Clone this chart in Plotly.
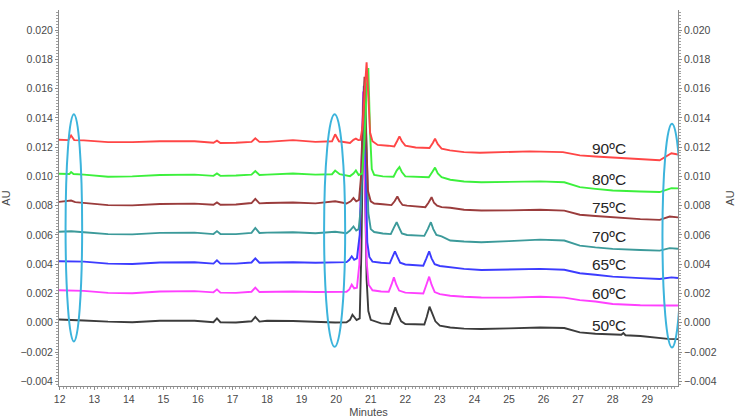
import plotly.graph_objects as go

# retention time (min) / absorbance (AU), one pair per temperature
t_50 = [11.98, 12.33, 12.7, 13.4, 14.1, 14.9, 15.9, 16.45, 16.55, 16.65, 17.1, 17.55, 17.66, 17.78, 18.0,
        18.75, 19.4, 19.97, 20.3, 20.40, 20.47, 20.59, 20.68, 20.73, 20.79, 20.84, 20.88, 20.93, 21.0,
        21.3, 21.55, 21.62, 21.71, 21.78, 21.88, 22.0, 22.3, 22.55, 22.62, 22.70, 22.77, 22.87, 23.0,
        23.3, 23.7, 24.2, 25.0, 25.9, 26.6, 27.05, 27.5, 28.0, 28.25, 28.31, 28.37, 28.8, 29.36, 29.6, 29.89]
au_50 = [0.00022, 0.00020, 0.00016, 0.00008, 0.00004, 0.00014, 0.00014, 0.00004, 0.00030, 0.00004, 0.00002,
         0.00010, 0.00040, 0.00008, 0.00014, 0.00012, 0.00004, 0.00002, 0.00004, 0.00020, 0.00055, 0.00018,
         0.00030, 0.0050, 0.0154, 0.0080, 0.0030, 0.0008, 0.0002, -0.00004, -0.00008, 0.0004, 0.00105,
         0.0006, 0.0001, -0.00008, -0.00012, -0.00012, 0.0004, 0.0011, 0.0007, 0.0001, -0.0002, -0.00032,
         -0.0004, -0.00043, -0.00038, -0.00032, -0.00036, -0.00066, -0.00075, -0.00082, -0.00082, -0.0007,
         -0.00085, -0.0009, -0.00105, -0.0011, -0.00112]

t_60 = [11.98, 12.7, 13.4, 14.1, 14.9, 15.9, 16.45, 16.55, 16.65, 17.1, 17.55, 17.66, 17.78, 18.0, 18.75,
        19.4, 19.97, 20.3, 20.38, 20.45, 20.52, 20.60, 20.67, 20.73, 20.78, 20.83, 20.88, 20.94, 21.05,
        21.3, 21.52, 21.60, 21.67, 21.74, 21.82, 22.0, 22.3, 22.52, 22.61, 22.69, 22.76, 22.85, 23.0,
        23.3, 23.7, 24.2, 25.0, 25.9, 26.6, 27.05, 27.5, 28.0, 28.8, 29.36, 29.6, 29.89]
au_60 = [0.00222, 0.00218, 0.00204, 0.00202, 0.00214, 0.00216, 0.00208, 0.00228, 0.00206, 0.00204, 0.00212,
         0.00240, 0.00210, 0.00212, 0.00214, 0.00210, 0.00210, 0.00212, 0.00228, 0.0026, 0.00235, 0.0024,
         0.0040, 0.0110, 0.0158, 0.0100, 0.0042, 0.0026, 0.00222, 0.00214, 0.00212, 0.0026, 0.0031, 0.0026,
         0.0022, 0.00206, 0.00202, 0.0020, 0.0026, 0.00315, 0.0026, 0.0021, 0.00196, 0.00185, 0.00178,
         0.00173, 0.00172, 0.00178, 0.00172, 0.00155, 0.00145, 0.00128, 0.0012, 0.00116, 0.00118, 0.00118]

t_65 = [11.98, 12.7, 13.4, 14.1, 14.9, 15.9, 16.45, 16.55, 16.65, 17.1, 17.55, 17.66, 17.78, 18.0, 18.75,
        19.4, 19.97, 20.3, 20.38, 20.45, 20.52, 20.60, 20.68, 20.74, 20.80, 20.85, 20.90, 20.96, 21.05,
        21.3, 21.55, 21.63, 21.70, 21.77, 21.85, 22.0, 22.3, 22.52, 22.61, 22.69, 22.76, 22.85, 23.0,
        23.3, 23.7, 24.2, 25.0, 25.9, 26.6, 27.05, 27.5, 28.0, 28.8, 29.36, 29.7, 29.89]
au_65 = [0.00420, 0.00418, 0.00404, 0.00402, 0.00412, 0.00414, 0.00404, 0.00426, 0.00404, 0.00404, 0.00412,
         0.00440, 0.00410, 0.00412, 0.00414, 0.00410, 0.00412, 0.00414, 0.0043, 0.00454, 0.0043, 0.0044,
         0.0060, 0.0120, 0.0162, 0.0110, 0.0055, 0.0045, 0.00418, 0.0041, 0.00406, 0.0045, 0.00488, 0.0045,
         0.0041, 0.00398, 0.00392, 0.0039, 0.0044, 0.00488, 0.0044, 0.0040, 0.00388, 0.00379, 0.00368,
         0.00361, 0.00364, 0.00368, 0.00362, 0.00338, 0.00328, 0.00315, 0.00305, 0.00299, 0.00310, 0.00306]

t_70 = [11.98, 12.33, 12.7, 13.4, 14.1, 14.9, 15.9, 16.45, 16.55, 16.65, 17.1, 17.55, 17.66, 17.78, 18.0,
        18.75, 19.4, 19.97, 20.3, 20.40, 20.50, 20.58, 20.65, 20.72, 20.78, 20.83, 20.88, 20.93, 21.0,
        21.1, 21.35, 21.58, 21.67, 21.75, 21.82, 21.9, 22.05, 22.3, 22.55, 22.65, 22.74, 22.81, 22.9,
        23.05, 23.3, 23.7, 24.2, 25.0, 25.9, 26.6, 27.05, 27.5, 28.0, 28.8, 29.36, 29.65, 29.89]
au_70 = [0.00622, 0.00625, 0.00618, 0.00606, 0.00604, 0.00614, 0.00616, 0.00606, 0.00626, 0.00606, 0.00606,
         0.00614, 0.00648, 0.00614, 0.00616, 0.00618, 0.00612, 0.00622, 0.00612, 0.0063, 0.00658, 0.0063,
         0.0064, 0.0080, 0.0130, 0.0165, 0.0120, 0.0075, 0.0064, 0.0062, 0.0061, 0.00606, 0.0065, 0.00687,
         0.0065, 0.0061, 0.0060, 0.00596, 0.00594, 0.0064, 0.00687, 0.0064, 0.0060, 0.0059, 0.00562,
         0.00555, 0.0055, 0.00558, 0.00568, 0.00562, 0.00527, 0.00515, 0.00505, 0.00497, 0.00493, 0.0051,
         0.00506]

t_75 = [11.98, 12.33, 12.45, 12.7, 13.4, 14.1, 14.9, 15.9, 16.45, 16.55, 16.65, 17.1, 17.55, 17.66, 17.78,
        18.0, 18.75, 19.4, 19.97, 20.3, 20.42, 20.50, 20.58, 20.66, 20.72, 20.77, 20.82, 20.87, 20.92,
        21.0, 21.1, 21.35, 21.6, 21.69, 21.77, 21.84, 21.92, 22.05, 22.3, 22.58, 22.67, 22.76, 22.83,
        22.92, 23.05, 23.3, 23.7, 24.2, 25.0, 25.9, 26.6, 27.05, 27.5, 28.0, 28.8, 29.36, 29.65, 29.89]
au_75 = [0.00826, 0.00835, 0.00824, 0.0082, 0.00804, 0.00802, 0.00812, 0.00814, 0.00806, 0.00822, 0.00806,
         0.00808, 0.00818, 0.00846, 0.00816, 0.00818, 0.00822, 0.00816, 0.0083, 0.00815, 0.0083, 0.00852,
         0.0083, 0.0084, 0.0100, 0.0140, 0.0168, 0.0125, 0.0090, 0.0083, 0.00815, 0.0081, 0.00804, 0.0083,
         0.00863, 0.0083, 0.00805, 0.0080, 0.00793, 0.0079, 0.0082, 0.00858, 0.0082, 0.0080, 0.0079,
         0.00786, 0.00772, 0.00767, 0.00768, 0.00772, 0.00766, 0.00738, 0.0073, 0.00721, 0.00708, 0.00703,
         0.00726, 0.0072]

t_80 = [11.98, 12.28, 12.33, 12.4, 12.7, 13.4, 14.1, 14.9, 15.9, 16.45, 16.55, 16.65, 17.1, 17.55, 17.66,
        17.78, 18.0, 18.75, 19.4, 19.88, 19.97, 20.1, 20.4, 20.5, 20.57, 20.65, 20.75, 20.82, 20.88, 20.93,
        20.98, 21.03, 21.1, 21.35, 21.66, 21.75, 21.83, 21.9, 22.0, 22.3, 22.68, 22.78, 22.86, 22.94,
        23.05, 23.3, 23.7, 24.2, 25.0, 25.9, 26.6, 27.05, 27.5, 28.0, 28.8, 29.36, 29.7, 29.89]
au_80 = [0.01018, 0.01016, 0.01030, 0.01016, 0.01012, 0.00998, 0.01000, 0.01010, 0.01012, 0.01004, 0.01020,
         0.01004, 0.01006, 0.01012, 0.01036, 0.01010, 0.01012, 0.01020, 0.01012, 0.01015, 0.01040, 0.01015,
         0.01002, 0.0102, 0.01041, 0.0101, 0.0102, 0.0125, 0.0160, 0.0174, 0.0130, 0.0105, 0.0101, 0.0100,
         0.00998, 0.0104, 0.01064, 0.0103, 0.0100, 0.00996, 0.00994, 0.0103, 0.0106, 0.0102, 0.00995,
         0.00977, 0.00965, 0.0096, 0.00962, 0.00966, 0.0096, 0.00927, 0.00915, 0.00904, 0.00897, 0.00893,
         0.0092, 0.00918]

t_90 = [11.98, 12.25, 12.33, 12.42, 12.7, 13.4, 14.1, 14.9, 15.9, 16.45, 16.55, 16.65, 17.1, 17.55, 17.66,
        17.78, 18.0, 18.75, 19.4, 19.88, 19.97, 20.08, 20.40, 20.50, 20.57, 20.64, 20.70, 20.77, 20.83,
        20.88, 20.93, 20.98, 21.05, 21.2, 21.5, 21.68, 21.76, 21.83, 21.9, 22.0, 22.3, 22.7, 22.8, 22.86,
        22.94, 23.05, 23.29, 23.7, 24.16, 25.0, 25.6, 26.56, 27.05, 27.5, 28.0, 28.8, 29.36, 29.7, 29.89]
au_90 = [0.01250, 0.01248, 0.01280, 0.01248, 0.01246, 0.01234, 0.01234, 0.0124, 0.0124, 0.0123, 0.01244,
         0.01228, 0.0123, 0.01236, 0.0126, 0.01236, 0.01236, 0.01248, 0.01236, 0.0124, 0.01288, 0.0124,
         0.01228, 0.0125, 0.01258, 0.01248, 0.0125, 0.0135, 0.0160, 0.0178, 0.0155, 0.0130, 0.0124,
         0.01215, 0.0121, 0.01205, 0.0124, 0.01274, 0.0124, 0.0121, 0.01198, 0.01194, 0.0123, 0.01258,
         0.0122, 0.0119, 0.01178, 0.01166, 0.01162, 0.01168, 0.01171, 0.01166, 0.01144, 0.01136, 0.01128,
         0.01116, 0.0111, 0.01158, 0.0115]

labels = ["50ºC", "60ºC", "65ºC", "70ºC", "75ºC", "80ºC", "90ºC"]
label_au = [-0.0002, 0.00197, 0.00397, 0.00589, 0.00786, 0.00977, 0.0119]

colors = ["#3c3c3c", "#ff40ff", "#3c3cff", "#3c9a9a", "#9a3c3c", "#3cf03c", "#ff4646"]
series = [(t_50, au_50), (t_60, au_60), (t_65, au_65), (t_70, au_70),
          (t_75, au_75), (t_80, au_80), (t_90, au_90)]

# marked regions (min, AU)
ellipses = [(12.17, 12.65, -0.00128, 0.01425),
            (19.65, 20.26, -0.00164, 0.01425),
            (29.44, 29.99, -0.00169, 0.0136)]

x_range = [11.98, 29.89]
y_range = [-0.00432, 0.02137]

fig = go.Figure()
for i, (t, au) in enumerate(series):
    fig.add_trace(go.Scatter(x=t, y=au, mode="lines", name=labels[i],
                             line=dict(color=colors[i], width=1.9),
                             yaxis="y2" if i == len(series) - 1 else "y"))

for x0, x1, y0, y1 in ellipses:
    fig.add_shape(type="circle", xref="x", yref="y", x0=x0, x1=x1, y0=y0, y1=y1,
                  line=dict(color="#3cb4dc", width=2))

for txt, y in zip(labels, label_au):
    fig.add_annotation(x=27.33, y=y, text=txt, showarrow=False, xanchor="left",
                       yanchor="middle", font=dict(size=15.5, color="#262626"))

axis_style = dict(showgrid=False, zeroline=False, showline=True, linecolor="#8c8c8c",
                  linewidth=1, ticks="outside", ticklen=3, tickcolor="#8c8c8c",
                  automargin=False, tickfont=dict(size=10.5, color="#4a4a4a"))

fig.update_layout(
    width=750, height=419,
    margin=dict(l=59, r=72, t=10, b=33),
    plot_bgcolor="white", paper_bgcolor="white",
    font=dict(family="Liberation Sans, Arial, sans-serif", color="#4a4a4a"),
    showlegend=False,
    xaxis=dict(range=x_range, dtick=1, tick0=12,
               minor=dict(dtick=0.1, ticklen=2, ticks="outside", tickcolor="#a0a0a0"),
               title=dict(text="Minutes", font=dict(size=11), standoff=4),
               **axis_style),
    yaxis=dict(range=y_range, dtick=0.002, tick0=0, tickformat=".3f",
               minor=dict(dtick=0.0002, ticklen=2, ticks="outside", tickcolor="#a0a0a0"),
               title=dict(text="AU", font=dict(size=11), standoff=10),
               **axis_style),
    yaxis2=dict(range=y_range, dtick=0.002, tick0=0, tickformat=".3f", overlaying="y", side="right",
                minor=dict(dtick=0.0002, ticklen=2, ticks="outside", tickcolor="#a0a0a0"),
                title=dict(text="AU", font=dict(size=11), standoff=10),
                **axis_style),
)

# the page body has a default 8px margin; drop it so the figure sits at the window corner
fig.write_html("out.html", config={"displayModeBar": False},
               post_script="document.body.style.margin='0px';")
